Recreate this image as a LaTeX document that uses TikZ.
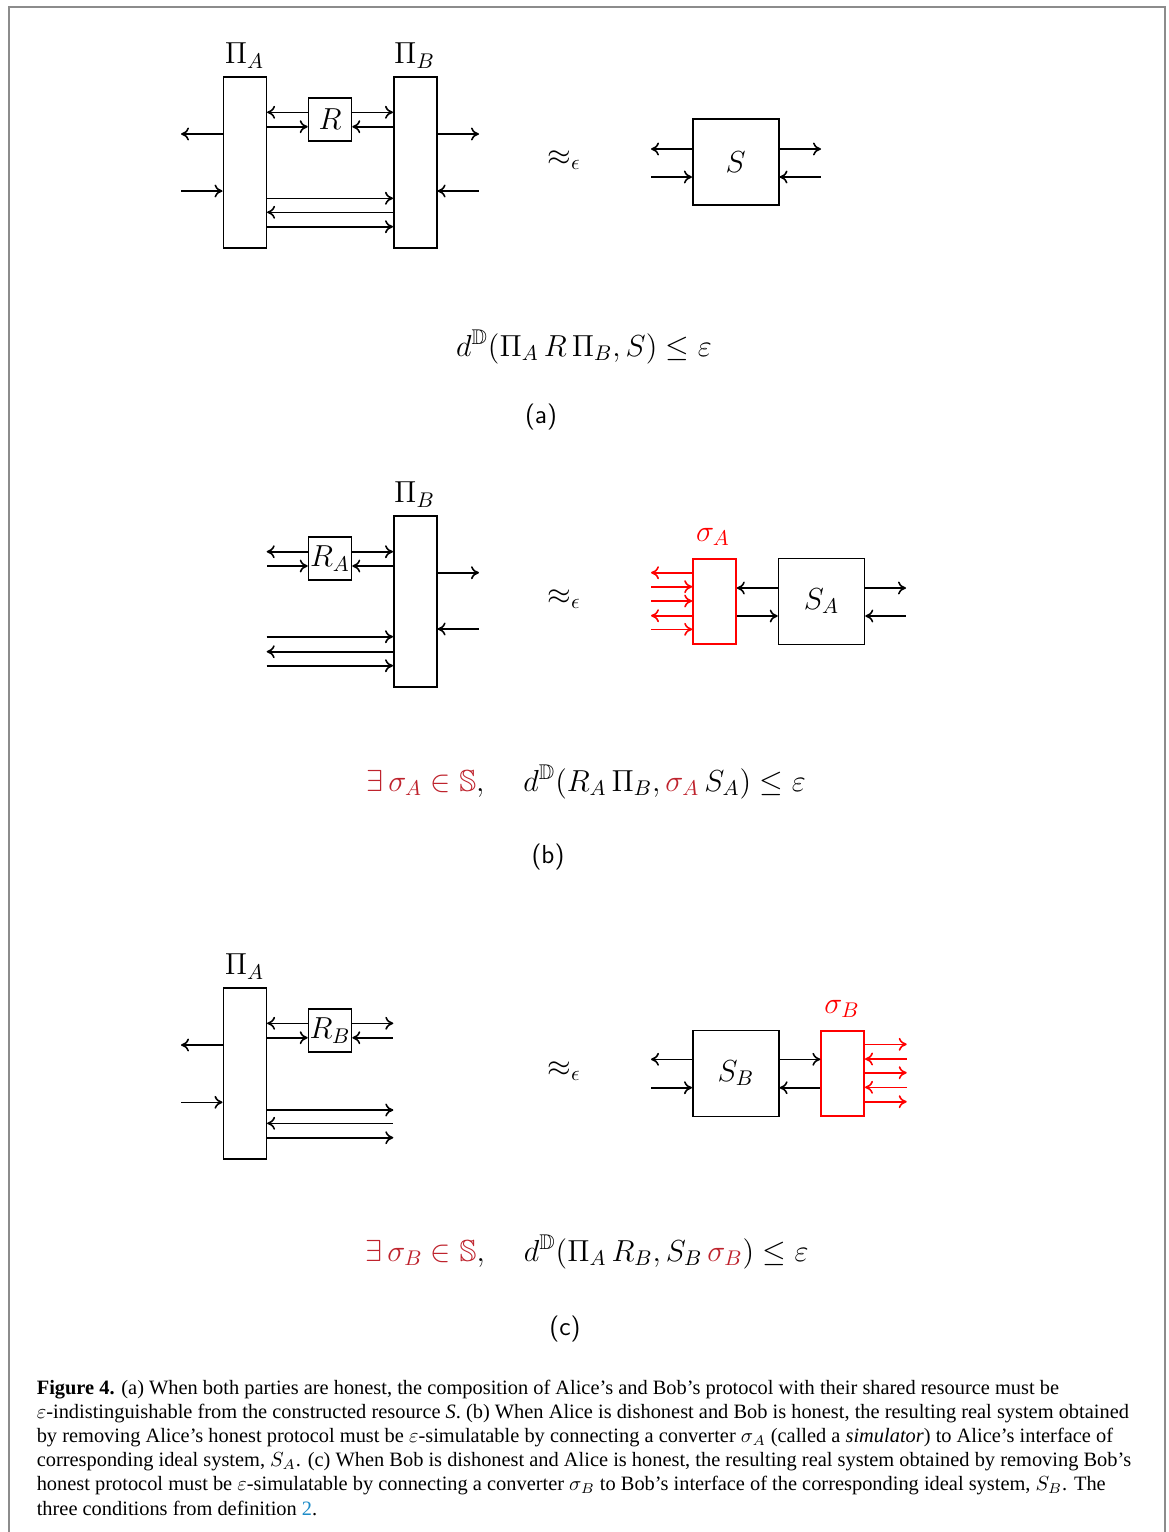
\documentclass[tikz,border=0pt]{standalone}
\usepackage{fix-cm}
\usepackage{amsmath}
\usepackage{amssymb}
\usepackage[no-math]{fontspec}
\setmainfont{Liberation Serif}
\usepackage{tikz}
\usetikzlibrary{arrows.meta}

\definecolor{fred}{RGB}{190,35,45}
\definecolor{framegray}{RGB}{140,140,140}
\definecolor{linkblue}{RGB}{30,140,200}

\begin{document}
\begin{tikzpicture}[x=0.5pt,y=-0.5pt,line width=0.8pt,
  >={To[length=4pt,width=6.5pt]},
  box/.style={draw,inner sep=0pt,font=\fontsize{15.2}{18}\selectfont},
  tallbox/.style={box,minimum width=21.5pt,minimum height=85.5pt},
  smallbox/.style={box,minimum width=21.5pt,minimum height=21.5pt},
  bigbox/.style={box,minimum size=43pt},
  simbox/.style={box,draw=red,minimum width=21.5pt,minimum height=42.5pt},
  lbl/.style={anchor=base,inner sep=0pt,font=\fontsize{15.2}{18}\selectfont},
  tag/.style={inner sep=0pt,font=\sffamily\fontsize{13}{15}\selectfont},
  redwire/.style={red}]
  \useasboundingbox (0,0) rectangle (1168,1532);
  \draw[framegray,line width=1pt] (9,1532) -- (9,7) -- (1165,7) -- (1165,1532);

  % (a) honest Alice and Bob
  \node[tallbox] (PiA) at (244.8,162.2) {};
  \node[tallbox] (PiB) at (415.3,162.2) {};
  \node[smallbox] (R) at (330,119.5) {$R$};
  \node[lbl] (PiAl) at (244.5,63.5) {$\Pi_A$};
  \node[lbl] (PiBl) at (414.5,63.5) {$\Pi_B$};
  \node[lbl] (apxa) at (564,165) {$\approx_\epsilon$};
  \node[bigbox] (S) at (735.7,162.2) {$S$};
  \coordinate (aL1) at (181,134);
  \coordinate (aL2) at (181,191);
  \coordinate (aR1) at (479,134);
  \coordinate (aR2) at (479,191);
  \coordinate (sL1) at (651,149);
  \coordinate (sL2) at (651,177);
  \coordinate (sR1) at (821,149);
  \coordinate (sR2) at (821,177);
  \draw[<-] (PiA.east |- 0,112.3) -- (R.west |- 0,112.3);
  \draw[->] (PiA.east |- 0,126.7) -- (R.west |- 0,126.7);
  \draw[->] (R.east |- 0,112.3) -- (PiB.west |- 0,112.3);
  \draw[<-] (R.east |- 0,126.7) -- (PiB.west |- 0,126.7);
  \draw[->] (PiA.west |- aL1) -- (aL1);
  \draw[<-] (PiA.west |- aL2) -- (aL2);
  \draw[->] (PiB.east |- aR1) -- (aR1);
  \draw[<-] (PiB.east |- aR2) -- (aR2);
  \draw[->] (PiA.east |- 0,198.3) -- (PiB.west |- 0,198.3);
  \draw[<-] (PiA.east |- 0,212.3) -- (PiB.west |- 0,212.3);
  \draw[->] (PiA.east |- 0,226.7) -- (PiB.west |- 0,226.7);
  \draw[->] (S.west |- sL1) -- (sL1);
  \draw[<-] (S.west |- sL2) -- (sL2);
  \draw[->] (S.east |- sR1) -- (sR1);
  \draw[<-] (S.east |- sR2) -- (sR2);
  \node[lbl] (fa) at (584,356) {$d^{\mathbb{D}}(\Pi_A\,R\,\Pi_B, S) \leq \varepsilon$};
  \node[tag] (ta) at (541,417) {(a)};

  % (b) dishonest Alice
  \node[tallbox] (PiB2) at (415.3,601.3) {};
  \node[smallbox] (RA) at (330,558.7) {$R_A$};
  \node[lbl] (PiB2l) at (414.5,502.5) {$\Pi_B$};
  \node[lbl] (apxb) at (564,604) {$\approx_\epsilon$};
  \node[simbox] (sigA) at (714.5,601.3) {};
  \node[lbl,red] (sigAl) at (713,541) {$\sigma_A$};
  \node[bigbox] (SA) at (821.5,601.3) {$S_A$};
  \coordinate (bL1) at (266.7,551.7);
  \coordinate (bL2) at (266.7,566);
  \coordinate (bR1) at (479,572.7);
  \coordinate (bR2) at (479,629);
  \coordinate (bB1) at (266.7,636.7);
  \coordinate (bB2) at (266.7,651.7);
  \coordinate (bB3) at (266.7,665.7);
  \coordinate (rA1) at (651,572.7);
  \coordinate (rA2) at (651,586.7);
  \coordinate (rA3) at (651,601);
  \coordinate (rA4) at (651,615.7);
  \coordinate (rA5) at (651,629.3);
  \coordinate (saR1) at (906,588);
  \coordinate (saR2) at (906,616);
  \draw[->] (RA.west |- bL1) -- (bL1);
  \draw[<-] (RA.west |- bL2) -- (bL2);
  \draw[->] (RA.east |- 0,551.7) -- (PiB2.west |- 0,551.7);
  \draw[<-] (RA.east |- 0,566) -- (PiB2.west |- 0,566);
  \draw[->] (PiB2.east |- bR1) -- (bR1);
  \draw[<-] (PiB2.east |- bR2) -- (bR2);
  \draw[->] (bB1) -- (PiB2.west |- bB1);
  \draw[<-] (bB2) -- (PiB2.west |- bB2);
  \draw[->] (bB3) -- (PiB2.west |- bB3);
  \draw[redwire,->] (sigA.west |- rA1) -- (rA1);
  \draw[redwire,<-] (sigA.west |- rA2) -- (rA2);
  \draw[redwire,<-] (sigA.west |- rA3) -- (rA3);
  \draw[redwire,->] (sigA.west |- rA4) -- (rA4);
  \draw[redwire,<-] (sigA.west |- rA5) -- (rA5);
  \draw[<-] (sigA.east |- 0,588) -- (SA.west |- 0,588);
  \draw[->] (sigA.east |- 0,616) -- (SA.west |- 0,616);
  \draw[->] (SA.east |- saR1) -- (saR1);
  \draw[<-] (SA.east |- saR2) -- (saR2);
  \node[lbl] (fb) at (586,791) {${\color{fred}\exists\,\sigma_A \in \mathbb{S}},\hspace{17pt} d^{\mathbb{D}}(R_A\,\Pi_B, {\color{fred}\sigma_A}\,S_A) \leq \varepsilon$};
  \node[tag] (tb) at (548,857) {(b)};

  % (c) dishonest Bob
  \node[tallbox] (PiA3) at (244.8,1073.3) {};
  \node[smallbox] (RB) at (330,1030.5) {$R_B$};
  \node[lbl] (PiA3l) at (244.5,974.5) {$\Pi_A$};
  \node[lbl] (apxc) at (564,1076) {$\approx_\epsilon$};
  \node[bigbox] (SB) at (735.8,1073.3) {$S_B$};
  \node[simbox] (sigB) at (842.7,1073.3) {};
  \node[lbl,red] (sigBl) at (842,1013) {$\sigma_B$};
  \coordinate (cL1) at (181,1045);
  \coordinate (cL2) at (181,1102.3);
  \coordinate (cR1) at (393.3,1023.3);
  \coordinate (cR2) at (393.3,1037.7);
  \coordinate (cB1) at (393.3,1110);
  \coordinate (cB2) at (393.3,1123.3);
  \coordinate (cB3) at (393.3,1137.7);
  \coordinate (sbL1) at (651,1059.3);
  \coordinate (sbL2) at (651,1087.7);
  \coordinate (rB1) at (906.7,1044.3);
  \coordinate (rB2) at (906.7,1059);
  \coordinate (rB3) at (906.7,1072.7);
  \coordinate (rB4) at (906.7,1087.3);
  \coordinate (rB5) at (906.7,1101.7);
  \draw[<-] (PiA3.east |- 0,1023.3) -- (RB.west |- 0,1023.3);
  \draw[->] (PiA3.east |- 0,1037.7) -- (RB.west |- 0,1037.7);
  \draw[->] (RB.east |- cR1) -- (cR1);
  \draw[<-] (RB.east |- cR2) -- (cR2);
  \draw[->] (PiA3.west |- cL1) -- (cL1);
  \draw[<-] (PiA3.west |- cL2) -- (cL2);
  \draw[->] (PiA3.east |- cB1) -- (cB1);
  \draw[<-] (PiA3.east |- cB2) -- (cB2);
  \draw[->] (PiA3.east |- cB3) -- (cB3);
  \draw[->] (SB.west |- sbL1) -- (sbL1);
  \draw[<-] (SB.west |- sbL2) -- (sbL2);
  \draw[->] (SB.east |- 0,1059.3) -- (sigB.west |- 0,1059.3);
  \draw[<-] (SB.east |- 0,1087.7) -- (sigB.west |- 0,1087.7);
  \draw[redwire,->] (sigB.east |- rB1) -- (rB1);
  \draw[redwire,<-] (sigB.east |- rB2) -- (rB2);
  \draw[redwire,->] (sigB.east |- rB3) -- (rB3);
  \draw[redwire,<-] (sigB.east |- rB4) -- (rB4);
  \draw[redwire,->] (sigB.east |- rB5) -- (rB5);
  \node[lbl] (fc) at (587,1261) {${\color{fred}\exists\,\sigma_B \in \mathbb{S}},\hspace{17pt} d^{\mathbb{D}}(\Pi_A\,R_B, S_B\,{\color{fred}\sigma_B}) \leq \varepsilon$};
  \node[tag] (tc) at (565,1329) {(c)};

  % caption (base = last line)
  \node[anchor=base west,align=left,inner sep=0pt,font=\fontsize{10.2}{12.1}\selectfont] (cap) at (36,1515)
    {\textbf{Figure 4.} (a) When both parties are honest, the composition of Alice’s and Bob’s protocol with their shared resource must be\\
     $\varepsilon$-indistinguishable from the constructed resource \textit{S}. (b) When Alice is dishonest and Bob is honest, the resulting real system obtained\\
     by removing Alice’s honest protocol must be $\varepsilon$-simulatable by connecting a converter $\sigma_A$ (called a \textit{simulator}) to Alice’s interface of\\
     corresponding ideal system, $S_A$. (c) When Bob is dishonest and Alice is honest, the resulting real system obtained by removing Bob’s\\
     honest protocol must be $\varepsilon$-simulatable by connecting a converter $\sigma_B$ to Bob’s interface of the corresponding ideal system, $S_B$. The\\
     three conditions from definition {\color{linkblue}2}.};
\end{tikzpicture}
\end{document}
